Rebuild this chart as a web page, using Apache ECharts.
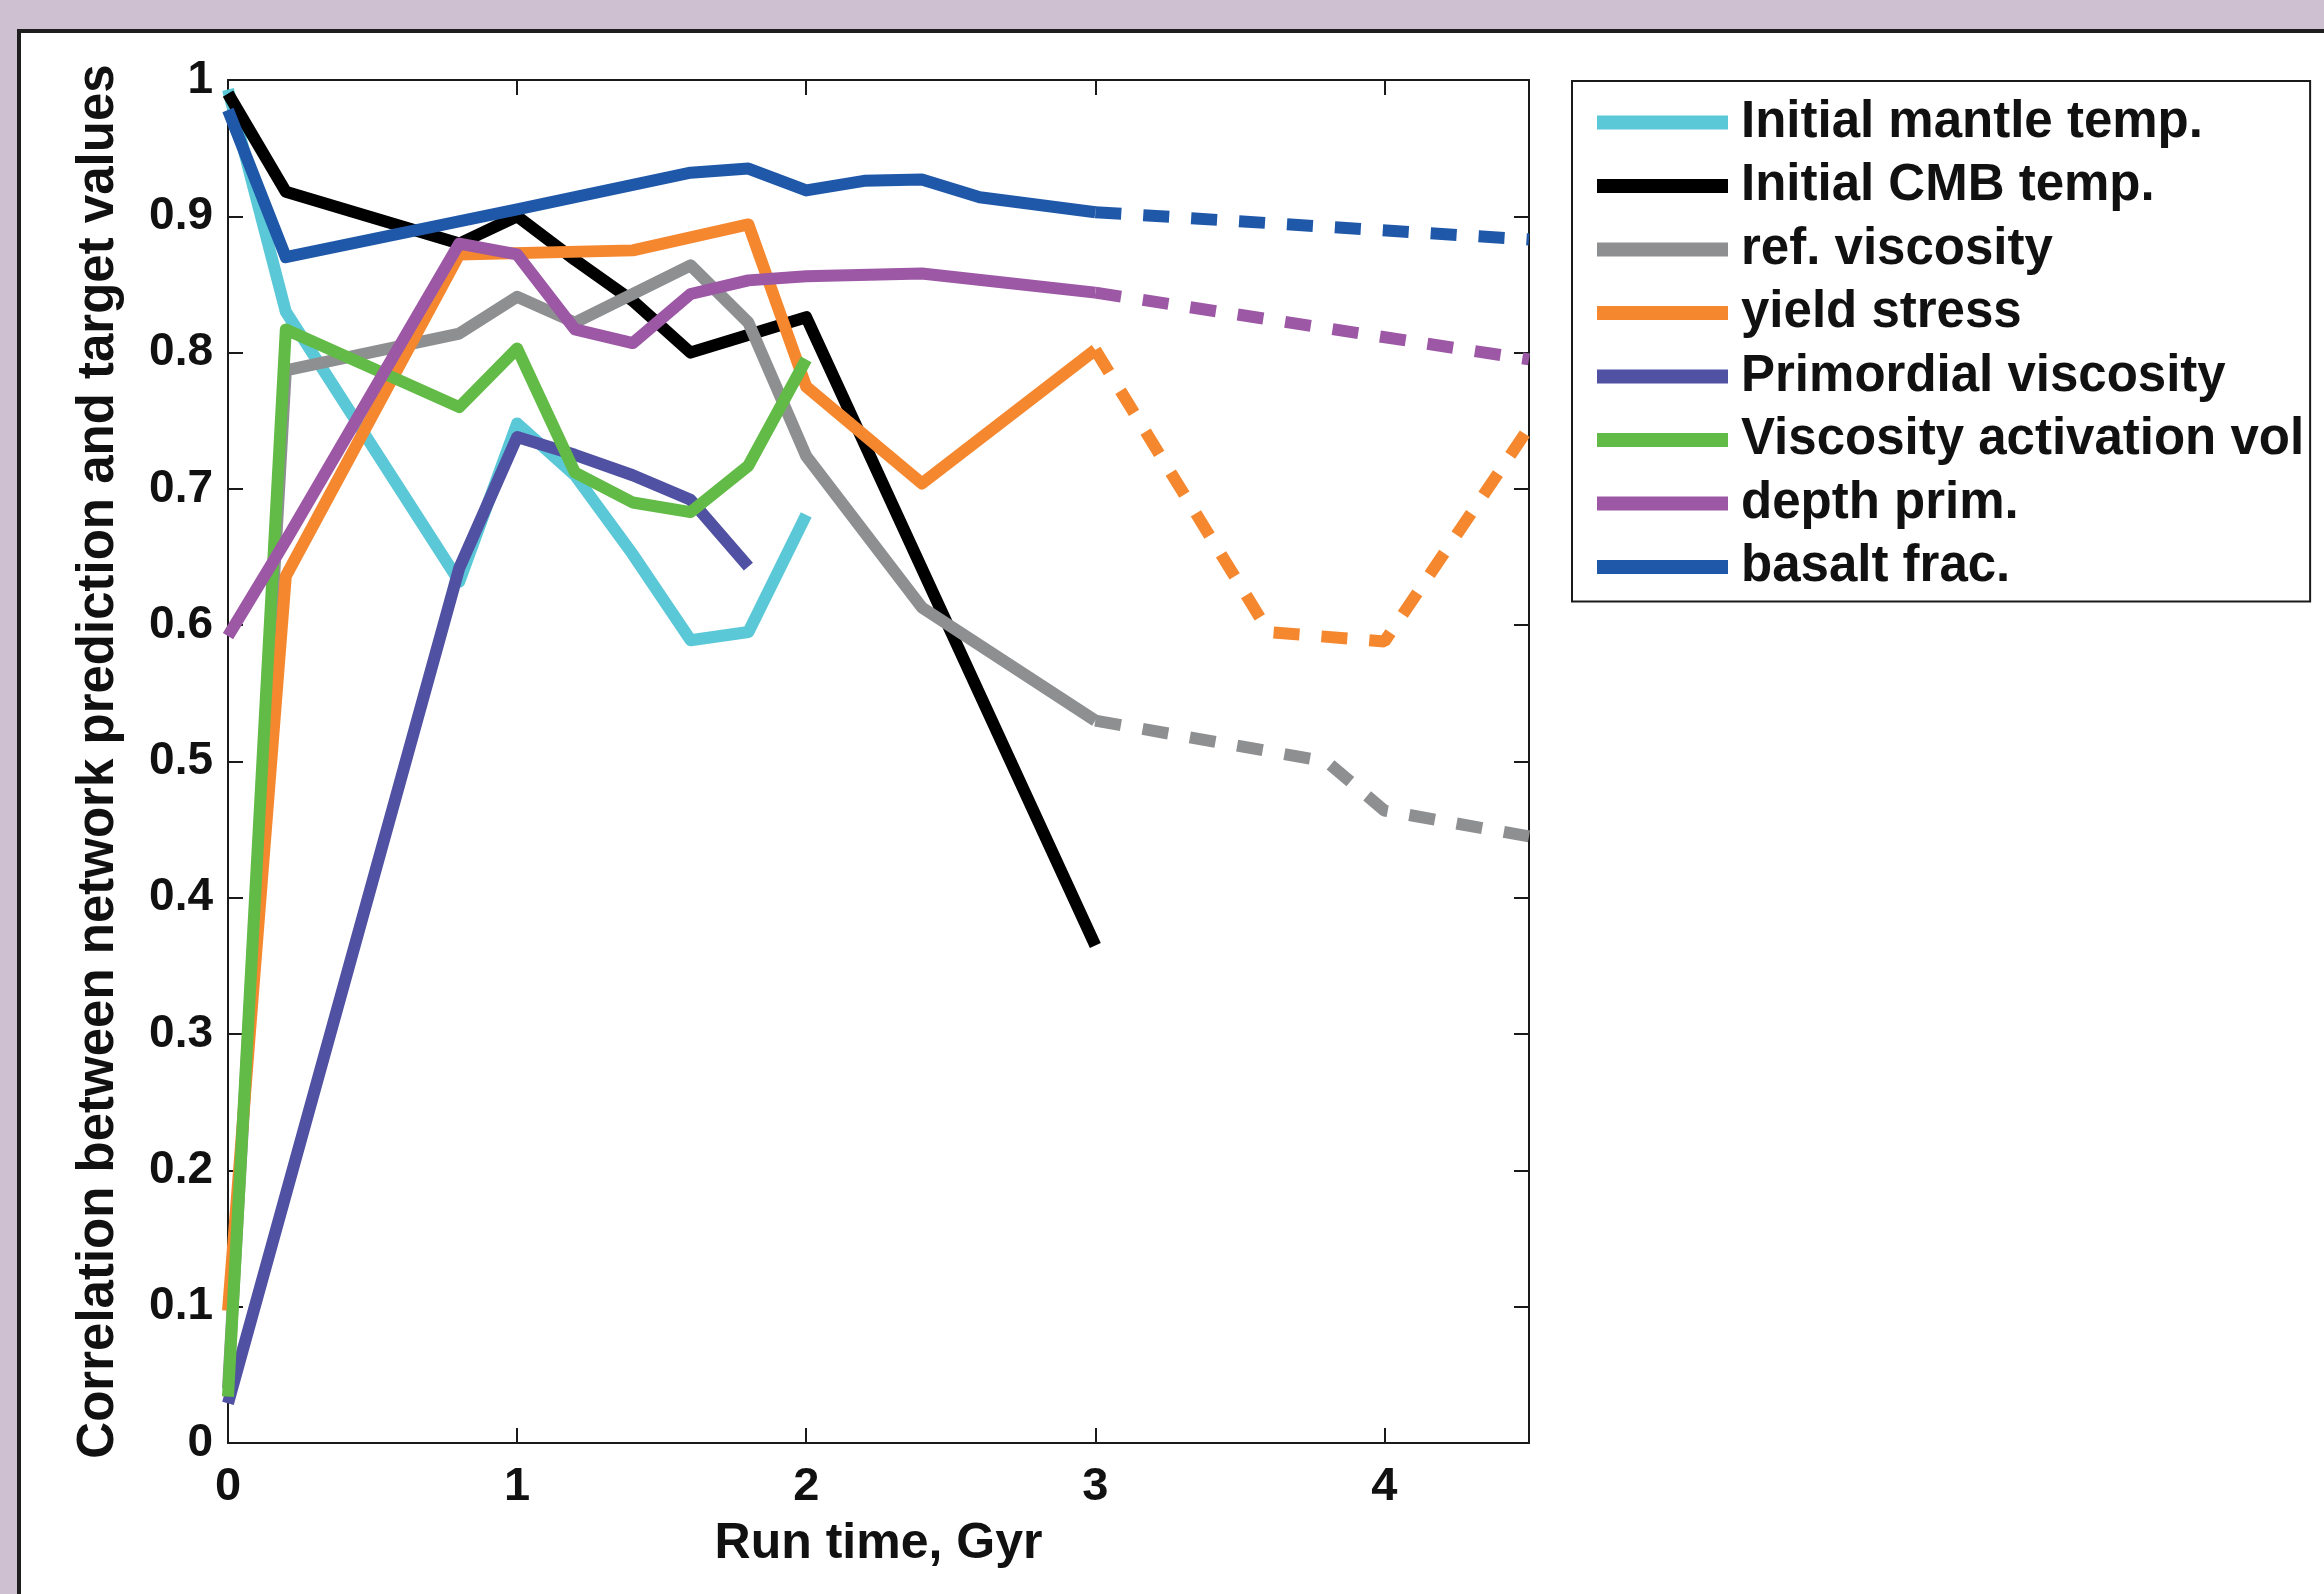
<!DOCTYPE html>
<html>
<head>
<meta charset="utf-8">
<script src="https://cdn.jsdelivr.net/npm/echarts@6/dist/echarts.min.js"></script>
<style>
  html, body { margin: 0; padding: 0; width: 2324px; height: 1594px; overflow: hidden; background: #cfc0d1; }
  #panel { position: absolute; left: 17px; top: 29px; width: 2400px; height: 1700px; background: #ffffff;
           border-left: 4px solid #1e1e1e; border-top: 4px solid #1e1e1e; }
  #chart { position: absolute; left: 0; top: 0; width: 2324px; height: 1594px; }
</style>
</head>
<body>
<div id="panel"></div>
<div id="chart"></div>
<script>
// ---- data (x = run time in Gyr, y = correlation) ----
const seriesNames = [
  'Initial mantle temp.', 'Initial CMB temp.', 'ref. viscosity', 'yield stress',
  'Primordial viscosity', 'Viscosity activation vol', 'depth prim.', 'basalt frac.'
];
const seriesColors = ['#5bc8d7', '#000000', '#8e8f91', '#f5872f', '#5151a3', '#62bb47', '#9c58a5', '#1f58a8'];

const mantleTemp = [[0,0.993],[0.2,0.83],[0.8,0.632],[1.0,0.748],[1.2,0.71],[1.4,0.652],[1.6,0.589],[1.8,0.595],[2.0,0.681]];
const cmbTemp = [[0,0.99],[0.2,0.918],[0.8,0.88],[1.0,0.90],[1.2,0.868],[1.4,0.838],[1.6,0.80],[2.0,0.826],[3.0,0.365]];
const refViscosity = [[0,0.04],[0.2,0.787],[0.8,0.814],[1.0,0.841],[1.2,0.822],[1.6,0.864],[1.8,0.822],[2.0,0.724],[2.4,0.613],[3.0,0.530]];
const refViscosityExt = [[3.0,0.530],[3.8,0.50],[4.0,0.464],[4.5,0.445]];
const yieldStress = [[0,0.097],[0.2,0.636],[0.8,0.872],[1.4,0.875],[1.8,0.894],[2.0,0.775],[2.4,0.704],[3.0,0.802]];
const yieldStressExt = [[3.0,0.802],[3.6,0.595],[4.0,0.588],[4.5,0.745]];
const primViscosity = [[0,0.029],[0.8,0.642],[1.0,0.738],[1.2,0.725],[1.4,0.71],[1.6,0.692],[1.8,0.643]];
const activationVol = [[0,0.034],[0.2,0.817],[0.8,0.76],[1.0,0.803],[1.2,0.712],[1.4,0.69],[1.6,0.683],[1.8,0.717],[2.0,0.795]];
const depthPrim = [[0,0.592],[0.2,0.662],[0.8,0.88],[1.0,0.872],[1.2,0.817],[1.4,0.807],[1.6,0.843],[1.8,0.853],[2.0,0.856],[2.4,0.858],[3.0,0.844]];
const depthPrimExt = [[3.0,0.844],[4.5,0.795]];
const basaltFrac = [[0,0.978],[0.2,0.870],[1.0,0.905],[1.6,0.932],[1.8,0.935],[2.0,0.919],[2.2,0.926],[2.4,0.927],[2.6,0.914],[3.0,0.903]];
const basaltFracExt = [[3.0,0.903],[4.5,0.883]];

const solidData = [mantleTemp, cmbTemp, refViscosity, yieldStress, primViscosity, activationVol, depthPrim, basaltFrac];
const dashedData = [null, null, refViscosityExt, yieldStressExt, null, null, depthPrimExt, basaltFracExt];

const xTicks = { min: 0, max: 4.5, interval: 1 };
const yTicks = { min: 0, max: 1, interval: 0.1 };

// ---- chart ----
const FONT = '"Liberation Sans", Arial, Helvetica, sans-serif';
const LW = 12;
const series = [];
seriesNames.forEach((name, i) => {
  series.push({
    name: name, type: 'line', data: solidData[i], showSymbol: false, silent: true,
    lineStyle: { color: seriesColors[i], width: LW, cap: 'butt', join: 'round' },
    itemStyle: { color: seriesColors[i] }, z: 2 + i
  });
  if (dashedData[i]) {
    series.push({
      name: name + ' (ext)', type: 'line', data: dashedData[i], showSymbol: false, silent: true,
      lineStyle: { color: seriesColors[i], width: LW, type: [26, 22], cap: 'butt' },
      itemStyle: { color: seriesColors[i] }, z: 2 + i
    });
  }
});
// invisible carrier so the mirrored top/right axes are laid out
series.push({
  name: 'frame', type: 'line', xAxisIndex: 1, yAxisIndex: 1, data: [[0, 0]],
  showSymbol: false, silent: true, lineStyle: { opacity: 0 }, itemStyle: { opacity: 0 }
});

const axisLineStyle = { color: '#1a1a1a', width: 2 };
const tickStyle = { show: true, inside: true, length: 15, lineStyle: { color: '#1a1a1a', width: 2 } };
const chart = echarts.init(document.getElementById('chart'), null, { renderer: 'canvas' });
chart.setOption({
  animation: false,
  backgroundColor: 'transparent',
  grid: { left: 228, top: 80, width: 1301, height: 1363, containLabel: false },
  legend: {
    orient: 'vertical', left: 1572, top: 81,
    padding: [13, 6, 6, 25], itemGap: 6.5, itemWidth: 131, itemHeight: 14,
    icon: 'rect', selectedMode: false,
    borderColor: '#1a1a1a', borderWidth: 2, backgroundColor: '#ffffff',
    data: seriesNames,
    textStyle: { fontFamily: FONT, fontSize: 51, fontWeight: 'bold', color: '#111', lineHeight: 57, padding: [0, 0, 0, 8] }
  },
  xAxis: [
    {
      type: 'value', position: 'bottom', min: xTicks.min, max: xTicks.max, interval: xTicks.interval,
      name: 'Run time, Gyr', nameLocation: 'middle', nameGap: 76,
      nameTextStyle: { fontFamily: FONT, fontSize: 50, fontWeight: 'bold', color: '#111' },
      axisLine: { show: true, onZero: false, lineStyle: axisLineStyle },
      axisTick: tickStyle,
      axisLabel: { fontFamily: FONT, fontSize: 47, fontWeight: 'bold', color: '#111', margin: 21, showMaxLabel: false,
                   formatter: v => (v > 4.01 ? '' : String(v)) },
      splitLine: { show: false }
    },
    {
      type: 'value', position: 'top', min: xTicks.min, max: xTicks.max, interval: xTicks.interval,
      axisLine: { show: true, onZero: false, lineStyle: axisLineStyle },
      axisTick: tickStyle,
      axisLabel: { show: false }, splitLine: { show: false }
    }
  ],
  yAxis: [
    {
      type: 'value', position: 'left', min: yTicks.min, max: yTicks.max, interval: yTicks.interval,
      name: 'Correlation between network prediction and target values', nameLocation: 'middle', nameGap: 104,
      nameTextStyle: { fontFamily: FONT, fontSize: 51, fontWeight: 'bold', color: '#111' },
      axisLine: { show: true, onZero: false, lineStyle: axisLineStyle },
      axisTick: tickStyle,
      axisLabel: { fontFamily: FONT, fontSize: 46, fontWeight: 'bold', color: '#111', margin: 15,
                   formatter: v => String(Math.round(v * 10) / 10) },
      splitLine: { show: false }
    },
    {
      type: 'value', position: 'right', min: yTicks.min, max: yTicks.max, interval: yTicks.interval,
      axisLine: { show: true, onZero: false, lineStyle: axisLineStyle },
      axisTick: tickStyle,
      axisLabel: { show: false }, splitLine: { show: false }
    }
  ],
  series: series
});
</script>
</body>
</html>
